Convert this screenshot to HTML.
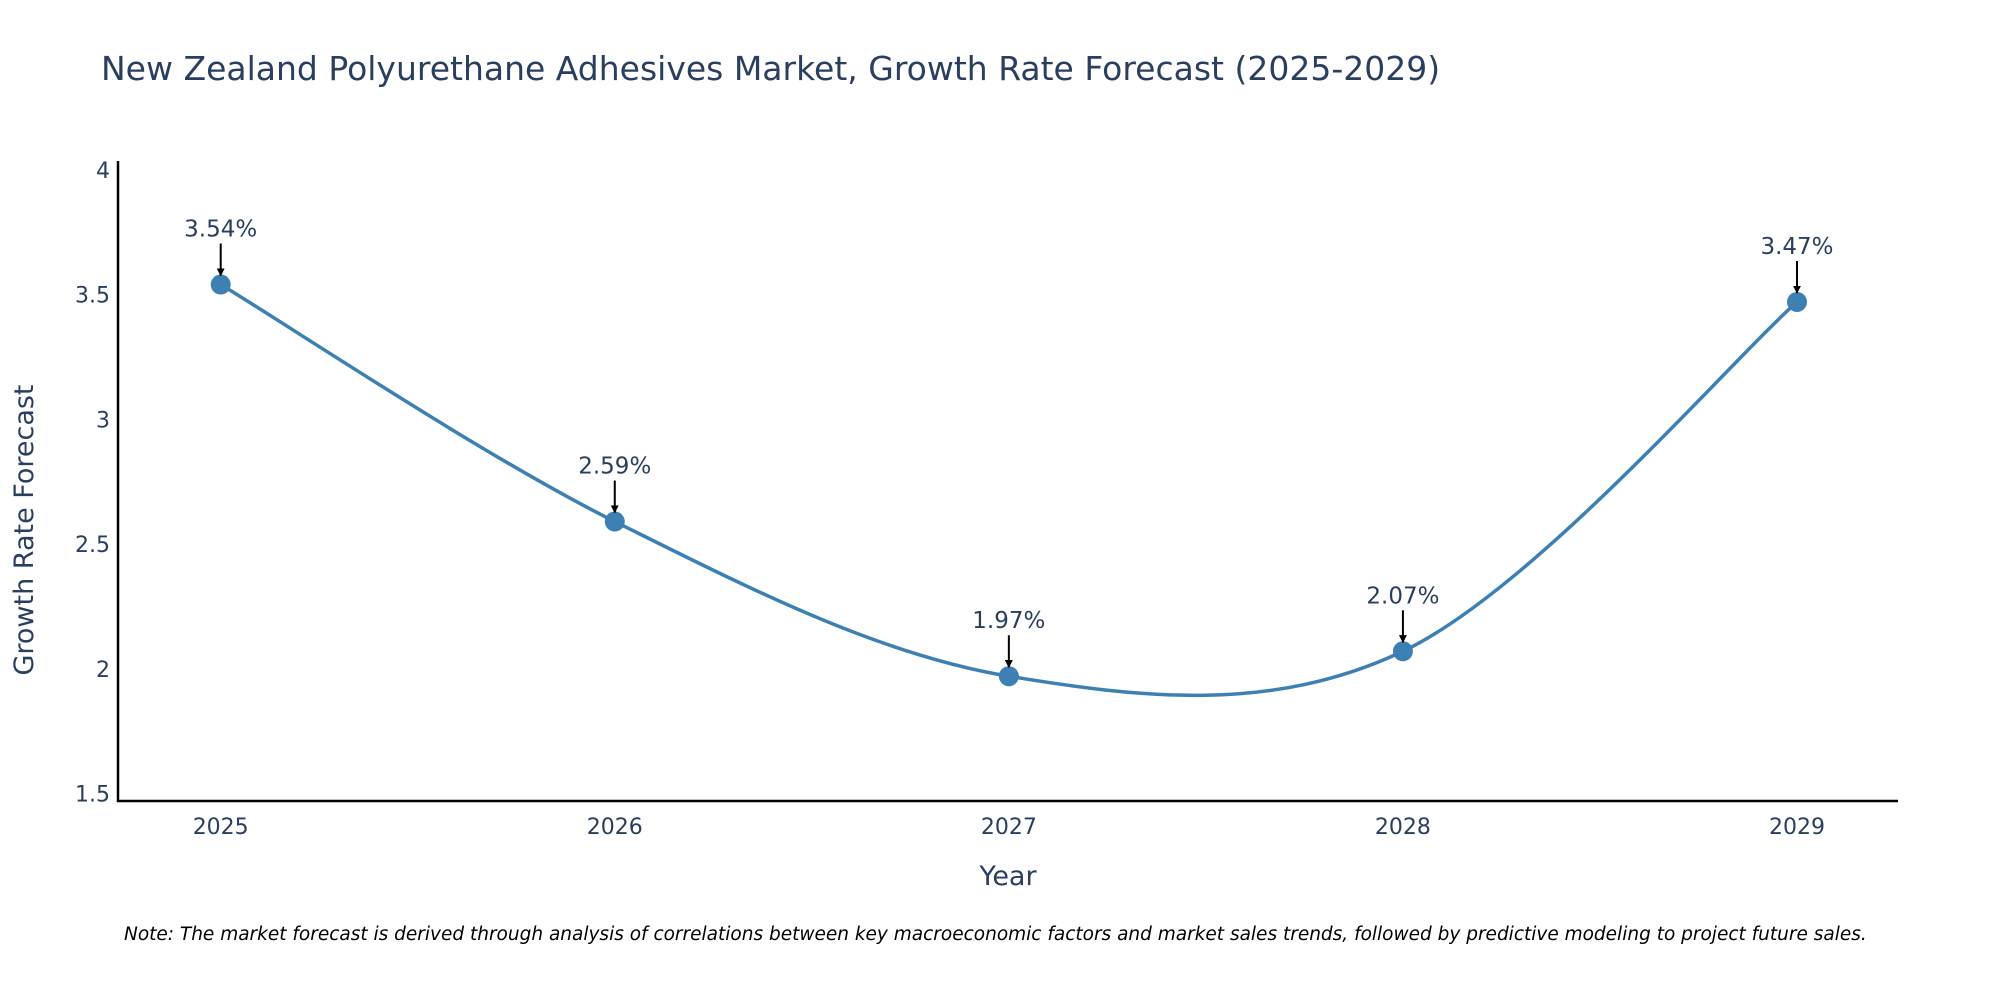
<!DOCTYPE html>
<html><head><meta charset="utf-8"><style>
body{margin:0;background:#fff;}
svg{display:block;font-family:"DejaVu Sans","Liberation Sans",sans-serif;}
</style></head><body>
<svg id="chart" width="2000" height="1000" viewBox="0 0 2000 1000">
<defs><marker id="ah" viewBox="0 0 10 10" refX="9" refY="5" markerWidth="8" markerHeight="8" markerUnits="userSpaceOnUse" orient="auto"><path d="M0,0L10,5L0,10z" fill="#000"/></marker></defs>
<text x="101" y="80" font-size="33" fill="#2a3f5f">New Zealand Polyurethane Adhesives Market, Growth Rate Forecast (2025-2029)</text>
<g id="yticks"></g><g id="xticks"></g>
<line x1="118" y1="161" x2="118" y2="802" stroke="#000" stroke-width="2.5"/>
<line x1="117" y1="801" x2="1898" y2="801" stroke="#000" stroke-width="2.5"/>
<text transform="translate(33,530) rotate(-90)" text-anchor="middle" font-size="27" fill="#2a3f5f">Growth Rate Forecast</text>
<text x="1008" y="885" text-anchor="middle" font-size="27" fill="#2a3f5f">Year</text>
<g id="series"></g>
<text x="124" y="940" font-size="18.5" font-style="italic" fill="#000">Note: The market forecast is derived through analysis of correlations between key macroeconomic factors and market sales trends, followed by predictive modeling to project future sales.</text>
</svg>
<script>
const years=[2025,2026,2027,2028,2029];
const values=[3.54,2.59,1.97,2.07,3.47];
const labels=["3.54%","2.59%","1.97%","2.07%","3.47%"];
const yTicks=[1.5,2,2.5,3,3.5,4];
const yTickLabels=["1.5","2","2.5","3","3.5","4"];
const NS="http://www.w3.org/2000/svg";
function X(v){return 220.7+(v-2025)*(1797-220.7)/4;}
function Y(v){return 793.5-(v-1.5)*249.5;}
function mk(t,a,p){const e=document.createElementNS(NS,t);for(const k in a)e.setAttribute(k,a[k]);p.appendChild(e);return e;}
const yt=document.getElementById('yticks'),xt=document.getElementById('xticks'),s=document.getElementById('series');
yTicks.forEach((v,i)=>{const t=mk('text',{x:110,y:Y(v)+8,'text-anchor':'end','font-size':22,fill:'#2a3f5f'},yt);t.textContent=yTickLabels[i];

});
years.forEach(v=>{const t=mk('text',{x:X(v),y:834,'text-anchor':'middle','font-size':22,fill:'#2a3f5f'},xt);t.textContent=v;

});
const P=years.map((y,i)=>[X(y),Y(values[i])]);
let d='M'+P[0][0]+','+P[0][1];
for(let i=0;i<P.length-1;i++){const p0=P[Math.max(0,i-1)],p1=P[i],p2=P[i+1],p3=P[Math.min(P.length-1,i+2)];const k=1/6;
d+=' C'+(p1[0]+(p2[0]-p0[0])*k)+','+(p1[1]+(p2[1]-p0[1])*k)+' '+(p2[0]-(p3[0]-p1[0])*k)+','+(p2[1]-(p3[1]-p1[1])*k)+' '+p2[0]+','+p2[1];}
const ln=mk('path',{d:d,fill:'none',stroke:'#3d80b3','stroke-width':3.5},s);


P.forEach((p,i)=>{const c=mk('circle',{cx:p[0],cy:p[1],r:10,fill:'#3d80b3'},s);


const a=mk('line',{x1:p[0],y1:p[1]-41,x2:p[0],y2:p[1]-9,stroke:'#000','stroke-width':2,'marker-end':'url(#ah)'},s);


const t=mk('text',{x:p[0],y:p[1]-48,'text-anchor':'middle','font-size':23,fill:'#2a3f5f'},s);t.textContent=labels[i];

});
</script>
</body></html>
